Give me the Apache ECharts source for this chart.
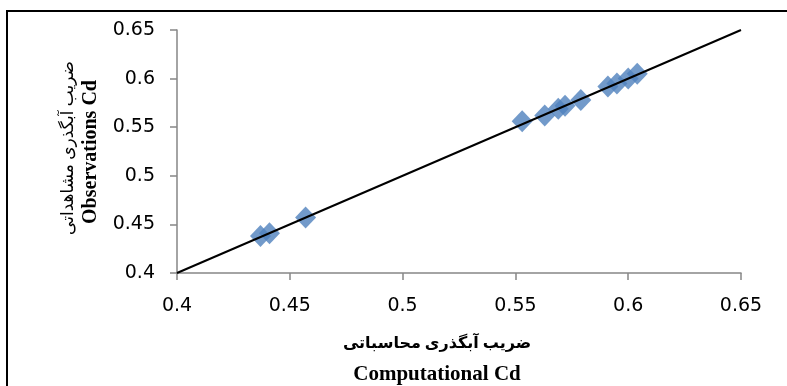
<!DOCTYPE html>
<html><head><meta charset="utf-8">
<script src="https://cdn.jsdelivr.net/npm/echarts@6/dist/echarts.min.js"></script>
<style>html,body{margin:0;padding:0;background:#fff}#c{width:787px;height:386px}</style>
</head><body><div id="c"></div>
<script>
const computedCd = [0.437, 0.441, 0.457, 0.553, 0.563, 0.569, 0.572, 0.579, 0.591, 0.595, 0.600, 0.604];
const observedCd = [0.438, 0.441, 0.457, 0.556, 0.562, 0.569, 0.572, 0.578, 0.592, 0.595, 0.600, 0.605];
const lineX = [0.4, 0.65];
const lineY = [0.4, 0.65];
const xTitleFa = 'ضریب آبگذری محاسباتی';
const xTitleEn = 'Computational Cd';
const yTitleFa = 'ضریب آبگذری مشاهداتی';
const yTitleEn = 'Observations Cd';

const chart = echarts.init(document.getElementById('c'));
const axisCommon = {
  type: 'value', min: 0.4, max: 0.65, interval: 0.05,
  axisLine: {show: true, lineStyle: {color: '#868686', width: 1.5}},
  axisTick: {show: true, length: 7, lineStyle: {color: '#868686', width: 1.5}},
  splitLine: {show: false},
  axisLabel: {color: '#000', fontFamily: 'DejaVu Sans', fontSize: 19,
    formatter: v => String(parseFloat(v.toFixed(2)))}
};
chart.setOption({
  animation: false,
  backgroundColor: '#fff',
  grid: {left: 177, top: 30, right: 46, bottom: 113, containLabel: false},
  xAxis: Object.assign({}, axisCommon, {axisLabel: Object.assign({}, axisCommon.axisLabel, {margin: 24})}),
  yAxis: Object.assign({}, axisCommon, {axisLabel: Object.assign({}, axisCommon.axisLabel, {margin: 22})}),
  series: [
    {type: 'scatter', data: computedCd.map((x, i) => [x, observedCd[i]]),
     symbol: 'diamond', symbolSize: [21, 22], itemStyle: {color: '#4F81BD'}, z: 2},
    {type: 'line', data: lineX.map((x, i) => [x, lineY[i]]), symbol: 'none',
     lineStyle: {color: '#000', width: 2}, z: 3}
  ],
  graphic: [
    {type: 'rect', shape: {x: 7, y: 11, width: 820, height: 420}, style: {fill: 'none', stroke: '#000', lineWidth: 2}, z: 10},
    {type: 'text', x: 437, y: 344, style: {text: xTitleFa, fontFamily: 'Liberation Serif, DejaVu Sans', fontWeight: 'bold', fontSize: 16, fill: '#000', align: 'center', verticalAlign: 'middle'}},
    {type: 'text', x: 437, y: 375, style: {text: xTitleEn, fontFamily: 'Liberation Serif', fontWeight: 'bold', fontSize: 21, fill: '#000', align: 'center', verticalAlign: 'middle'}},
    {type: 'text', x: 69, y: 148, rotation: Math.PI / 2, style: {text: yTitleFa, fontFamily: 'Liberation Serif, DejaVu Sans', fontSize: 17, fill: '#000', align: 'center', verticalAlign: 'middle'}},
    {type: 'text', x: 91, y: 152, rotation: Math.PI / 2, style: {text: yTitleEn, fontFamily: 'Liberation Serif', fontWeight: 'bold', fontSize: 20, fill: '#000', align: 'center', verticalAlign: 'middle'}}
  ]
});
</script></body></html>
